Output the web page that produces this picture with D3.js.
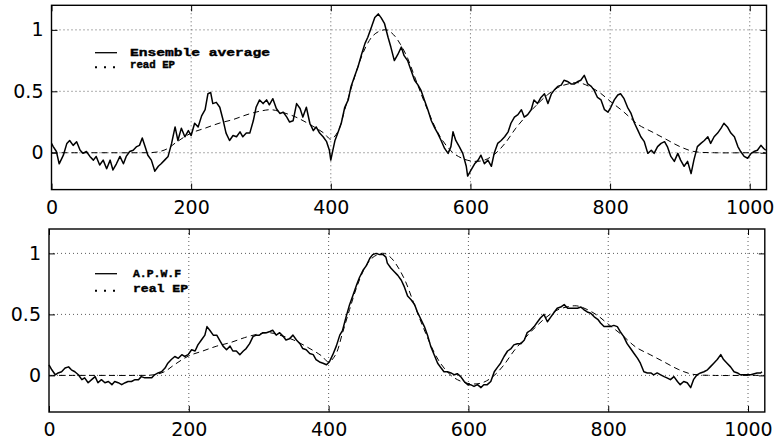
<!DOCTYPE html>
<html>
<head>
<meta charset="utf-8">
<script src="https://cdn.jsdelivr.net/npm/d3@7"></script>
<style>
  body { margin: 0; background: #fff; }
</style>
</head>
<body>
<script>
// Tick values shared by both panels
const xTicks = [0, 200, 400, 600, 800, 1000];
const yTicks = [0, 0.5, 1];

// Legend labels
const topLegend = ['Ensemble average', 'read EP'];
const bottomLegend = ['A.P.W.F', 'real EP'];

// The real EP (dashed) as [sample, amplitude]
const realEP = [
  [0, 0], [40, 0], [80, 0], [120, 0], [150, 0.005], [165, 0.03], [180, 0.09], [200, 0.16],
  [220, 0.2], [240, 0.24], [260, 0.27], [280, 0.31], [300, 0.34], [315, 0.35], [330, 0.33],
  [350, 0.29], [370, 0.23], [390, 0.16], [400, 0.11], [410, 0.17], [420, 0.35], [430, 0.54],
  [440, 0.72], [450, 0.86], [460, 0.95], [470, 0.99], [480, 1.0], [490, 0.96], [500, 0.88],
  [510, 0.77], [520, 0.62], [530, 0.47], [540, 0.33], [550, 0.2], [560, 0.1], [575, 0.0],
  [590, -0.05], [605, -0.07], [620, -0.06], [635, -0.01], [650, 0.08], [665, 0.2], [680, 0.3],
  [695, 0.39], [710, 0.47], [725, 0.53], [740, 0.56], [755, 0.57], [770, 0.54], [785, 0.49],
  [800, 0.42], [820, 0.33], [840, 0.23], [860, 0.17], [880, 0.11], [900, 0.05], [920, 0.01],
  [950, 0], [1000, 0], [1023, 0]
];

// Ensemble average (top panel, solid)
const ensembleAvg = [
  [0, 0.076], [2.5, 0.05], [7, 0.01], [11, -0.09], [17, -0.02], [22, 0.076], [26, 0.1], [31, 0.06],
  [36, 0.09], [41, 0.02], [45, -0.005], [50, 0.01], [55, -0.03], [60, -0.06], [64, -0.03], [69, -0.1],
  [74, -0.06], [79, -0.13], [84, -0.06], [88, -0.14], [93, -0.09], [98, -0.03], [103, -0.09], [107, -0.03],
  [112, 0.01], [117, 0.02], [122, 0.05], [126, 0.06], [130, 0.12], [134, 0.05], [138, -0.02], [143, -0.06],
  [148, -0.15], [153, -0.11], [157, -0.09], [162, -0.06], [167, -0.03], [172, 0.076], [177, 0.21], [181, 0.1],
  [186, 0.2], [191, 0.13], [196, 0.18], [200, 0.14], [205, 0.24], [210, 0.21], [215, 0.3], [220, 0.35],
  [224, 0.48], [228, 0.49], [231, 0.4], [236, 0.41], [241, 0.37], [246, 0.26], [250, 0.16], [255, 0.1],
  [260, 0.14], [265, 0.13], [270, 0.17], [274, 0.13], [279, 0.16], [284, 0.16], [289, 0.26], [293, 0.37],
  [298, 0.43], [303, 0.4], [308, 0.43], [312, 0.39], [317, 0.44], [322, 0.36], [327, 0.32], [332, 0.33],
  [337, 0.29], [341, 0.25], [346, 0.26], [351, 0.4], [356, 0.36], [360, 0.29], [365, 0.37], [370, 0.24],
  [375, 0.18], [379, 0.21], [384, 0.16], [389, 0.13], [394, 0.09], [398, 0.02], [400, -0.06], [402, -0.005],
  [406, 0.1], [410, 0.16], [415, 0.24], [420, 0.37], [425, 0.43], [429, 0.54], [434, 0.62], [439, 0.7],
  [444, 0.8], [449, 0.89], [453, 0.94], [458, 1.02], [463, 1.1], [468, 1.13], [472, 1.1], [477, 1.05],
  [482, 0.94], [486, 0.86], [491, 0.75], [496, 0.8], [501, 0.86], [505, 0.79], [510, 0.75], [515, 0.67],
  [520, 0.59], [525, 0.55], [529, 0.51], [534, 0.43], [539, 0.35], [544, 0.26], [549, 0.2], [553, 0.16],
  [558, 0.1], [563, 0.035], [568, -0.005], [572, 0.05], [575, 0.17], [579, 0.1], [584, 0.05], [589, -0.005],
  [594, -0.11], [596, -0.19], [601, -0.14], [606, -0.09], [611, -0.06], [615, -0.02], [620, -0.09], [625, -0.06],
  [630, -0.11], [634, -0.005], [639, 0.076], [644, 0.1], [649, 0.13], [654, 0.17], [658, 0.24], [663, 0.29],
  [668, 0.31], [673, 0.35], [677, 0.29], [682, 0.31], [687, 0.35], [691, 0.43], [696, 0.4], [701, 0.45],
  [706, 0.48], [711, 0.4], [716, 0.48], [720, 0.51], [725, 0.54], [730, 0.55], [734, 0.59], [739, 0.58],
  [744, 0.56], [749, 0.56], [754, 0.58], [758, 0.59], [763, 0.63], [768, 0.56], [773, 0.54], [777, 0.51],
  [782, 0.45], [787, 0.43], [792, 0.35], [797, 0.33], [801, 0.37], [806, 0.43], [811, 0.47], [815, 0.48],
  [820, 0.44], [825, 0.37], [830, 0.32], [835, 0.24], [840, 0.18], [844, 0.13], [849, 0.09], [854, -0.005],
  [859, 0.02], [863, -0.005], [868, 0.05], [873, 0.076], [878, 0.09], [882, 0.05], [887, -0.03], [892, -0.07],
  [897, -0.005], [901, -0.06], [906, -0.11], [911, -0.07], [916, -0.17], [920, -0.06], [925, 0.05], [930, 0.076],
  [935, 0.1], [940, 0.13], [944, 0.076], [949, 0.13], [954, 0.16], [959, 0.2], [963, 0.24], [968, 0.21],
  [973, 0.16], [978, 0.13], [983, 0.05], [987, 0.01], [992, -0.03], [997, -0.045], [1002, -0.005], [1006, 0.01],
  [1011, 0.02], [1016, 0.06], [1020, 0.035], [1023, 0.02]
];

// A.P.W.F estimate (bottom panel, solid)
const apwf = [
  [0, 0.087], [4, 0.046], [9, 0.005], [13, 0.02], [18, 0.03], [23, 0.06], [28, 0.07], [32, 0.046],
  [37, 0.03], [42, 0.005], [47, -0.035], [51, -0.02], [56, -0.06], [61, -0.035], [66, -0.01], [70, -0.06],
  [75, -0.035], [80, -0.06], [85, -0.05], [90, -0.076], [94, -0.05], [99, -0.06], [104, -0.076], [109, -0.06],
  [113, -0.05], [118, -0.05], [123, -0.035], [128, -0.035], [132, -0.01], [137, -0.02], [142, -0.02], [147, -0.02],
  [151, 0.005], [156, 0.02], [161, 0.03], [166, 0.06], [170, 0.1], [175, 0.13], [180, 0.155], [185, 0.14],
  [190, 0.17], [194, 0.155], [199, 0.17], [204, 0.21], [209, 0.2], [213, 0.25], [218, 0.29], [223, 0.33],
  [226, 0.4], [230, 0.37], [235, 0.33], [240, 0.33], [244, 0.29], [249, 0.24], [254, 0.21], [259, 0.24],
  [263, 0.2], [268, 0.2], [273, 0.17], [278, 0.2], [282, 0.22], [287, 0.26], [292, 0.32], [297, 0.33],
  [301, 0.33], [306, 0.35], [311, 0.35], [316, 0.36], [320, 0.37], [325, 0.33], [330, 0.35], [335, 0.32],
  [339, 0.29], [344, 0.3], [349, 0.33], [354, 0.29], [359, 0.26], [363, 0.22], [368, 0.21], [373, 0.18],
  [378, 0.17], [382, 0.13], [387, 0.11], [392, 0.1], [397, 0.087], [401, 0.11], [406, 0.17], [411, 0.24],
  [416, 0.33], [420, 0.37], [425, 0.48], [430, 0.58], [435, 0.66], [440, 0.74], [444, 0.8], [449, 0.86],
  [454, 0.9], [459, 0.96], [463, 0.99], [468, 1.0], [473, 0.99], [478, 0.99], [482, 0.97], [484, 0.92],
  [489, 0.88], [494, 0.85], [499, 0.82], [504, 0.78], [508, 0.73], [513, 0.65], [518, 0.62], [523, 0.58],
  [527, 0.52], [532, 0.46], [537, 0.4], [542, 0.32], [546, 0.24], [551, 0.17], [556, 0.1], [561, 0.06],
  [565, 0.03], [570, 0.03], [575, 0.02], [580, 0.005], [584, 0.014], [589, -0.01], [594, -0.05], [599, -0.076],
  [603, -0.076], [608, -0.09], [613, -0.076], [618, -0.1], [622, -0.076], [627, -0.076], [632, -0.05], [637, 0.03],
  [642, 0.07], [646, 0.1], [651, 0.155], [656, 0.2], [661, 0.22], [665, 0.25], [670, 0.26], [675, 0.26],
  [680, 0.29], [684, 0.35], [689, 0.37], [694, 0.4], [699, 0.44], [703, 0.47], [708, 0.5], [713, 0.44],
  [718, 0.48], [723, 0.52], [727, 0.55], [732, 0.56], [737, 0.58], [742, 0.55], [746, 0.55], [751, 0.55],
  [756, 0.55], [761, 0.56], [765, 0.54], [770, 0.52], [775, 0.51], [780, 0.48], [785, 0.46], [789, 0.43],
  [794, 0.4], [799, 0.4], [803, 0.4], [808, 0.41], [813, 0.4], [817, 0.36], [822, 0.32], [827, 0.26],
  [832, 0.22], [837, 0.18], [842, 0.14], [846, 0.1], [851, 0.03], [856, 0.02], [861, 0.02], [865, 0.005],
  [870, 0.02], [875, 0.005], [880, -0.01], [884, -0.02], [889, -0.035], [894, -0.01], [899, -0.05], [903, -0.076],
  [908, -0.05], [913, -0.06], [918, -0.1], [922, -0.035], [927, 0.005], [932, 0.02], [937, 0.03], [942, 0.046],
  [946, 0.07], [951, 0.1], [956, 0.13], [961, 0.17], [965, 0.13], [970, 0.1], [975, 0.07], [980, 0.03],
  [985, 0.02], [989, 0.005], [994, 0.005], [999, 0.005], [1004, 0.005], [1009, 0.014], [1013, 0.02], [1018, 0.02],
  [1020, 0.03]
];

let width = 778,
    height = 442;

let svg = d3.select('body')
    .append('svg')
    .attr('width', width)
    .attr('height', height)
    .style('display', 'block')
    .style('background', '#fff');

function drawPanel(cfg) {
    let x = d3.scaleLinear()
        .domain([0, 1024])
        .range([cfg.left, cfg.right]);

    let y = d3.scaleLinear()
        .domain([-0.3, 1.2])
        .range([cfg.bottom, cfg.top]);

    let g = svg.append('g');

    // dotted grid
    g.selectAll('.vgrid')
        .data(xTicks.filter(d => d > 0))
        .enter().append('line')
        .attr('x1', d => x(d)).attr('x2', d => x(d))
        .attr('y1', cfg.top).attr('y2', cfg.bottom)
        .attr('stroke', '#333')
        .attr('stroke-width', 0.8)
        .attr('stroke-dasharray', '1,3');

    g.selectAll('.hgrid')
        .data(yTicks)
        .enter().append('line')
        .attr('x1', cfg.left).attr('x2', cfg.right)
        .attr('y1', d => y(d)).attr('y2', d => y(d))
        .attr('stroke', '#333')
        .attr('stroke-width', 0.8)
        .attr('stroke-dasharray', '1,3');

    // axes with inward ticks
    g.append('g')
        .attr('transform', `translate(0,${cfg.bottom})`)
        .call(d3.axisBottom(x).tickValues(xTicks).tickSize(-6).tickPadding(11).tickFormat(d => String(d)));

    g.append('g')
        .attr('transform', `translate(0,${cfg.top})`)
        .call(d3.axisTop(x).tickValues(xTicks).tickSize(-6).tickFormat(''));

    g.append('g')
        .attr('transform', `translate(${cfg.left},0)`)
        .call(d3.axisLeft(y).tickValues(yTicks).tickSize(-6).tickPadding(8).tickFormat(d => String(d)));

    g.append('g')
        .attr('transform', `translate(${cfg.right},0)`)
        .call(d3.axisRight(y).tickValues(yTicks).tickSize(-6).tickFormat(''));

    g.selectAll('.domain').remove();
    g.selectAll('.tick line').attr('stroke', '#000').attr('stroke-width', 1);
    g.selectAll('.tick text')
        .attr('font-family', 'DejaVu Sans, sans-serif')
        .attr('font-size', 19)
        .attr('fill', '#000');

    // frame
    g.append('rect')
        .attr('x', cfg.left)
        .attr('y', cfg.top)
        .attr('width', cfg.right - cfg.left)
        .attr('height', cfg.bottom - cfg.top)
        .attr('fill', 'none')
        .attr('stroke', '#000')
        .attr('stroke-width', 1.4);

    // real EP, dashed
    let smooth = d3.line()
        .x(d => x(d[0]))
        .y(d => y(d[1]))
        .curve(d3.curveCatmullRom);

    g.append('path')
        .datum(realEP)
        .attr('d', smooth)
        .attr('fill', 'none')
        .attr('stroke', '#000')
        .attr('stroke-width', 1)
        .attr('stroke-dasharray', '6,4');

    // estimate, solid
    let rough = d3.line()
        .x(d => x(d[0]))
        .y(d => y(d[1]));

    g.append('path')
        .datum(cfg.series)
        .attr('d', rough)
        .attr('fill', 'none')
        .attr('stroke', '#000')
        .attr('stroke-width', 1.5)
        .attr('stroke-linejoin', 'round');

    // legend
    let lg = g.append('g');
    lg.append('line')
        .attr('x1', 95).attr('x2', 117)
        .attr('y1', cfg.legY[0] - 3).attr('y2', cfg.legY[0] - 3)
        .attr('stroke', '#000').attr('stroke-width', 1.3);
    lg.append('line')
        .attr('x1', 95).attr('x2', 118)
        .attr('y1', cfg.legY[1] - 1).attr('y2', cfg.legY[1] - 1)
        .attr('stroke', '#000').attr('stroke-width', 2)
        .attr('stroke-dasharray', '2,7');

    cfg.legend.forEach((label, i) => {
        lg.append('text')
            .attr('x', cfg.legX)
            .attr('y', cfg.legY[i])
            .attr('font-family', 'Liberation Mono, DejaVu Sans Mono, monospace')
            .attr('font-weight', 'bold')
            .attr('font-size', 11)
            .attr('stroke', '#000')
            .attr('stroke-width', 0.4)
            .attr('textLength', cfg.legW[i])
            .attr('lengthAdjust', 'spacingAndGlyphs')
            .text(label);
    });
}

drawPanel({
    left: 51.5, right: 766.5, top: 5.3, bottom: 189.6,
    series: ensembleAvg,
    legend: topLegend,
    legX: 130, legY: [55.7, 68.3], legW: [140, 45]
});

drawPanel({
    left: 49, right: 764.8, top: 229, bottom: 412,
    series: apwf,
    legend: bottomLegend,
    legX: 133, legY: [276.7, 291.7], legW: [48, 55]
});
</script>
</body>
</html>
